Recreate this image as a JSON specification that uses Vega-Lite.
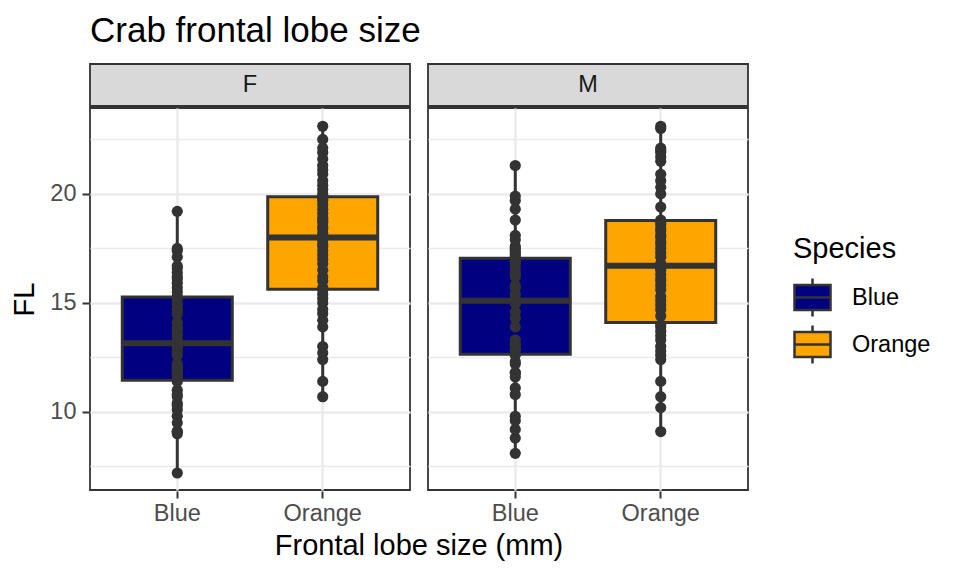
{
"$schema":"https://vega.github.io/schema/vega-lite/v6.json",
"padding":{"left":10,"top":14,"right":5,"bottom":5},
"title":{"text":"Crab frontal lobe size","anchor":"start","frame":"group","fontSize":35,"fontWeight":"normal","font":"Liberation Sans","color":"black","offset":14},
"datasets":{
"strips":[{"Sex":"F"},{"Sex":"M"}],
"crabs":[
{"Sex":"F","Species":"Blue","FL":7.2},{"Sex":"F","Species":"Blue","FL":9.0},{"Sex":"F","Species":"Blue","FL":9.1},{"Sex":"F","Species":"Blue","FL":9.1},{"Sex":"F","Species":"Blue","FL":9.5},{"Sex":"F","Species":"Blue","FL":9.8},{"Sex":"F","Species":"Blue","FL":10.1},{"Sex":"F","Species":"Blue","FL":10.3},{"Sex":"F","Species":"Blue","FL":10.4},{"Sex":"F","Species":"Blue","FL":10.7},
{"Sex":"F","Species":"Blue","FL":10.8},{"Sex":"F","Species":"Blue","FL":11.0},{"Sex":"F","Species":"Blue","FL":11.4},{"Sex":"F","Species":"Blue","FL":11.6},{"Sex":"F","Species":"Blue","FL":11.7},{"Sex":"F","Species":"Blue","FL":11.8},{"Sex":"F","Species":"Blue","FL":11.9},{"Sex":"F","Species":"Blue","FL":12.0},{"Sex":"F","Species":"Blue","FL":12.1},{"Sex":"F","Species":"Blue","FL":12.2},
{"Sex":"F","Species":"Blue","FL":12.6},{"Sex":"F","Species":"Blue","FL":12.8},{"Sex":"F","Species":"Blue","FL":12.9},{"Sex":"F","Species":"Blue","FL":13.0},{"Sex":"F","Species":"Blue","FL":13.1},{"Sex":"F","Species":"Blue","FL":13.2},{"Sex":"F","Species":"Blue","FL":13.3},{"Sex":"F","Species":"Blue","FL":13.5},{"Sex":"F","Species":"Blue","FL":13.6},{"Sex":"F","Species":"Blue","FL":13.8},
{"Sex":"F","Species":"Blue","FL":13.9},{"Sex":"F","Species":"Blue","FL":14.1},{"Sex":"F","Species":"Blue","FL":14.5},{"Sex":"F","Species":"Blue","FL":14.7},{"Sex":"F","Species":"Blue","FL":14.9},{"Sex":"F","Species":"Blue","FL":15.0},{"Sex":"F","Species":"Blue","FL":15.2},{"Sex":"F","Species":"Blue","FL":15.3},{"Sex":"F","Species":"Blue","FL":15.5},{"Sex":"F","Species":"Blue","FL":15.7},
{"Sex":"F","Species":"Blue","FL":15.9},{"Sex":"F","Species":"Blue","FL":16.1},{"Sex":"F","Species":"Blue","FL":16.2},{"Sex":"F","Species":"Blue","FL":16.4},{"Sex":"F","Species":"Blue","FL":16.6},{"Sex":"F","Species":"Blue","FL":16.7},{"Sex":"F","Species":"Blue","FL":17.1},{"Sex":"F","Species":"Blue","FL":17.4},{"Sex":"F","Species":"Blue","FL":17.5},{"Sex":"F","Species":"Blue","FL":19.2},
{"Sex":"F","Species":"Orange","FL":10.7},{"Sex":"F","Species":"Orange","FL":11.4},{"Sex":"F","Species":"Orange","FL":12.4},{"Sex":"F","Species":"Orange","FL":12.7},{"Sex":"F","Species":"Orange","FL":13.0},{"Sex":"F","Species":"Orange","FL":13.9},{"Sex":"F","Species":"Orange","FL":14.2},{"Sex":"F","Species":"Orange","FL":14.5},{"Sex":"F","Species":"Orange","FL":14.7},{"Sex":"F","Species":"Orange","FL":15.0},
{"Sex":"F","Species":"Orange","FL":15.2},{"Sex":"F","Species":"Orange","FL":15.4},{"Sex":"F","Species":"Orange","FL":15.6},{"Sex":"F","Species":"Orange","FL":15.7},{"Sex":"F","Species":"Orange","FL":16.0},{"Sex":"F","Species":"Orange","FL":16.2},{"Sex":"F","Species":"Orange","FL":16.5},{"Sex":"F","Species":"Orange","FL":16.8},{"Sex":"F","Species":"Orange","FL":17.0},{"Sex":"F","Species":"Orange","FL":17.2},
{"Sex":"F","Species":"Orange","FL":17.4},{"Sex":"F","Species":"Orange","FL":17.6},{"Sex":"F","Species":"Orange","FL":17.7},{"Sex":"F","Species":"Orange","FL":17.9},{"Sex":"F","Species":"Orange","FL":18.0},{"Sex":"F","Species":"Orange","FL":18.0},{"Sex":"F","Species":"Orange","FL":18.2},{"Sex":"F","Species":"Orange","FL":18.4},{"Sex":"F","Species":"Orange","FL":18.5},{"Sex":"F","Species":"Orange","FL":18.7},
{"Sex":"F","Species":"Orange","FL":18.8},{"Sex":"F","Species":"Orange","FL":18.9},{"Sex":"F","Species":"Orange","FL":19.1},{"Sex":"F","Species":"Orange","FL":19.3},{"Sex":"F","Species":"Orange","FL":19.5},{"Sex":"F","Species":"Orange","FL":19.7},{"Sex":"F","Species":"Orange","FL":19.8},{"Sex":"F","Species":"Orange","FL":19.9},{"Sex":"F","Species":"Orange","FL":20.0},{"Sex":"F","Species":"Orange","FL":20.2},
{"Sex":"F","Species":"Orange","FL":20.4},{"Sex":"F","Species":"Orange","FL":20.6},{"Sex":"F","Species":"Orange","FL":20.9},{"Sex":"F","Species":"Orange","FL":21.1},{"Sex":"F","Species":"Orange","FL":21.3},{"Sex":"F","Species":"Orange","FL":21.6},{"Sex":"F","Species":"Orange","FL":21.9},{"Sex":"F","Species":"Orange","FL":22.1},{"Sex":"F","Species":"Orange","FL":22.5},{"Sex":"F","Species":"Orange","FL":23.1},
{"Sex":"M","Species":"Blue","FL":8.1},{"Sex":"M","Species":"Blue","FL":8.8},{"Sex":"M","Species":"Blue","FL":9.2},{"Sex":"M","Species":"Blue","FL":9.6},{"Sex":"M","Species":"Blue","FL":9.8},{"Sex":"M","Species":"Blue","FL":10.8},{"Sex":"M","Species":"Blue","FL":11.1},{"Sex":"M","Species":"Blue","FL":11.6},{"Sex":"M","Species":"Blue","FL":11.8},{"Sex":"M","Species":"Blue","FL":11.8},
{"Sex":"M","Species":"Blue","FL":12.2},{"Sex":"M","Species":"Blue","FL":12.3},{"Sex":"M","Species":"Blue","FL":12.6},{"Sex":"M","Species":"Blue","FL":12.8},{"Sex":"M","Species":"Blue","FL":12.8},{"Sex":"M","Species":"Blue","FL":12.9},{"Sex":"M","Species":"Blue","FL":13.1},{"Sex":"M","Species":"Blue","FL":13.1},{"Sex":"M","Species":"Blue","FL":13.3},{"Sex":"M","Species":"Blue","FL":13.9},
{"Sex":"M","Species":"Blue","FL":14.3},{"Sex":"M","Species":"Blue","FL":14.6},{"Sex":"M","Species":"Blue","FL":15.0},{"Sex":"M","Species":"Blue","FL":15.0},{"Sex":"M","Species":"Blue","FL":15.0},{"Sex":"M","Species":"Blue","FL":15.2},{"Sex":"M","Species":"Blue","FL":15.4},{"Sex":"M","Species":"Blue","FL":15.7},{"Sex":"M","Species":"Blue","FL":15.8},{"Sex":"M","Species":"Blue","FL":16.2},
{"Sex":"M","Species":"Blue","FL":16.3},{"Sex":"M","Species":"Blue","FL":16.4},{"Sex":"M","Species":"Blue","FL":16.6},{"Sex":"M","Species":"Blue","FL":16.8},{"Sex":"M","Species":"Blue","FL":16.9},{"Sex":"M","Species":"Blue","FL":16.9},{"Sex":"M","Species":"Blue","FL":16.9},{"Sex":"M","Species":"Blue","FL":17.1},{"Sex":"M","Species":"Blue","FL":17.2},{"Sex":"M","Species":"Blue","FL":17.3},
{"Sex":"M","Species":"Blue","FL":17.4},{"Sex":"M","Species":"Blue","FL":17.5},{"Sex":"M","Species":"Blue","FL":17.6},{"Sex":"M","Species":"Blue","FL":17.9},{"Sex":"M","Species":"Blue","FL":18.1},{"Sex":"M","Species":"Blue","FL":18.8},{"Sex":"M","Species":"Blue","FL":19.3},{"Sex":"M","Species":"Blue","FL":19.7},{"Sex":"M","Species":"Blue","FL":19.9},{"Sex":"M","Species":"Blue","FL":21.3},
{"Sex":"M","Species":"Orange","FL":9.1},{"Sex":"M","Species":"Orange","FL":10.2},{"Sex":"M","Species":"Orange","FL":10.7},{"Sex":"M","Species":"Orange","FL":11.4},{"Sex":"M","Species":"Orange","FL":12.4},{"Sex":"M","Species":"Orange","FL":12.6},{"Sex":"M","Species":"Orange","FL":12.8},{"Sex":"M","Species":"Orange","FL":13.0},{"Sex":"M","Species":"Orange","FL":13.3},{"Sex":"M","Species":"Orange","FL":13.5},
{"Sex":"M","Species":"Orange","FL":13.7},{"Sex":"M","Species":"Orange","FL":13.9},{"Sex":"M","Species":"Orange","FL":14.0},{"Sex":"M","Species":"Orange","FL":14.4},{"Sex":"M","Species":"Orange","FL":14.7},{"Sex":"M","Species":"Orange","FL":14.9},{"Sex":"M","Species":"Orange","FL":15.1},{"Sex":"M","Species":"Orange","FL":15.3},{"Sex":"M","Species":"Orange","FL":15.6},{"Sex":"M","Species":"Orange","FL":15.8},
{"Sex":"M","Species":"Orange","FL":16.0},{"Sex":"M","Species":"Orange","FL":16.1},{"Sex":"M","Species":"Orange","FL":16.3},{"Sex":"M","Species":"Orange","FL":16.5},{"Sex":"M","Species":"Orange","FL":16.6},{"Sex":"M","Species":"Orange","FL":16.8},{"Sex":"M","Species":"Orange","FL":17.1},{"Sex":"M","Species":"Orange","FL":17.3},{"Sex":"M","Species":"Orange","FL":17.5},{"Sex":"M","Species":"Orange","FL":17.7},
{"Sex":"M","Species":"Orange","FL":17.8},{"Sex":"M","Species":"Orange","FL":18.0},{"Sex":"M","Species":"Orange","FL":18.1},{"Sex":"M","Species":"Orange","FL":18.3},{"Sex":"M","Species":"Orange","FL":18.4},{"Sex":"M","Species":"Orange","FL":18.6},{"Sex":"M","Species":"Orange","FL":18.7},{"Sex":"M","Species":"Orange","FL":18.8},{"Sex":"M","Species":"Orange","FL":19.4},{"Sex":"M","Species":"Orange","FL":20.0},
{"Sex":"M","Species":"Orange","FL":20.3},{"Sex":"M","Species":"Orange","FL":20.6},{"Sex":"M","Species":"Orange","FL":20.9},{"Sex":"M","Species":"Orange","FL":21.5},{"Sex":"M","Species":"Orange","FL":21.7},{"Sex":"M","Species":"Orange","FL":21.9},{"Sex":"M","Species":"Orange","FL":22.0},{"Sex":"M","Species":"Orange","FL":22.1},{"Sex":"M","Species":"Orange","FL":23.0},{"Sex":"M","Species":"Orange","FL":23.1}
]},
"vconcat":[
{"data":{"name":"strips"},
 "facet":{"column":{"field":"Sex","type":"nominal","header":{"labels":false,"title":null,"labelPadding":0,"titlePadding":0}}},
 "spacing":16,
 "spec":{"width":320,"height":42,
   "view":{"fill":"#D9D9D9","stroke":"#333333","strokeWidth":1.8},
   "mark":{"type":"text","fontSize":23.5,"font":"Liberation Sans","color":"#1A1A1A","baseline":"middle","align":"center"},
   "encoding":{"text":{"field":"Sex","type":"nominal"}}}
},
{"data":{"name":"crabs"},
 "facet":{"column":{"field":"Sex","type":"nominal","title":"Frontal lobe size (mm)","header":{"labels":false,"labelPadding":0,"titleOrient":"bottom","titleFontSize":29,"titleFont":"Liberation Sans","titleFontWeight":"normal","titleColor":"black","titlePadding":-3}}},
 "spacing":16,
 "spec":{"width":320,"height":382,
   "view":{"fill":"white","stroke":"#333333","strokeWidth":1.8},
   "resolve":{"axis":{"y":"independent"}},
   "layer":[
    {"mark":{"type":"boxplot","extent":1.5,"size":110,"box":{"stroke":"#333333","strokeWidth":3},"median":{"color":"#333333","thickness":6,"opacity":1},"rule":{"color":"#333333","strokeWidth":3},"ticks":false,"outliers":false},
     "encoding":{
       "x":{"field":"Species","type":"nominal","title":null,
            "scale":{"paddingInner":0.25,"paddingOuter":0.225},
            "axis":{"labelAngle":0,"bandPosition":0.5,"grid":true,"gridColor":"#EBEBEB","gridWidth":2.5,"domain":false,"tickColor":"#333333","tickWidth":2,"tickSize":7,"labelColor":"#4D4D4D","labelFontSize":23.5,"labelFont":"Liberation Sans","labelPadding":3}},
       "y":{"field":"FL","type":"quantitative","title":"FL",
            "scale":{"domain":[6.42,23.94],"nice":false,"zero":false},
            "axis":{"values":[10,15,20],"grid":true,"gridColor":"#EBEBEB","gridWidth":2.5,"domain":false,"tickColor":"#333333","tickWidth":2,"tickSize":7,"labelColor":"#4D4D4D","labelFontSize":23.5,"labelFont":"Liberation Sans","labelPadding":6,"titleFontSize":29,"titleFont":"Liberation Sans","titleFontWeight":"normal","titleColor":"black","titlePadding":10}},
       "color":{"field":"Species","type":"nominal","scale":{"domain":["Blue","Orange"],"range":["#000080","#FFA500"]},
            "legend":{"title":"Species","orient":"none","legendX":703,"legendY":171,"titleFontSize":29,"titleFont":"Liberation Sans","titleFontWeight":"normal","titleColor":"black","titlePadding":14,
                      "labelFontSize":23.5,"labelFont":"Liberation Sans","labelColor":"black","labelOffset":20,
                      "symbolType":"M-1,-0.69H1V0.69H-1Z M0,-1.05V-0.69 M0,0.69V1.05 M-1,0H1","symbolSize":1296,"symbolStrokeColor":"#333333","symbolStrokeWidth":2.5,"symbolOpacity":1,"rowPadding":-2}}
     }},
    {"mark":{"type":"circle","size":125,"color":"#333333","opacity":1},
     "encoding":{
       "x":{"field":"Species","type":"nominal"},
       "y":{"field":"FL","type":"quantitative","axis":{"values":[7.5,12.5,17.5,22.5],"orient":"right","grid":true,"gridColor":"#EBEBEB","gridWidth":1.3,"labels":false,"ticks":false,"domain":false,"title":null}}
     }}
   ]}
}
],
"spacing":0,
"config":{"font":"Liberation Sans"}
}
